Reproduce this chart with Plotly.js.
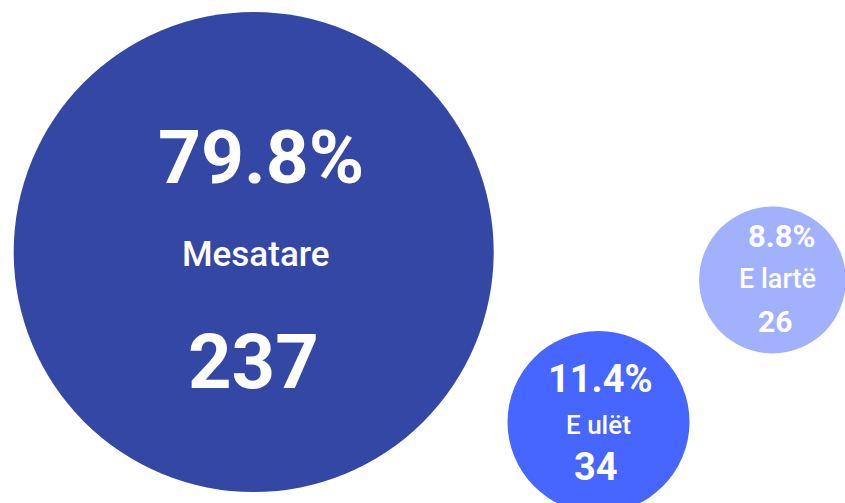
<!DOCTYPE html>
<html>
<head>
<meta charset="utf-8">
<script src="https://cdn.plot.ly/plotly-3.0.1.min.js"></script>
<style>
html,body{margin:0;padding:0;background:#fff;}
#chart{width:845px;height:503px;}
</style>
</head>
<body>
<div id="chart"></div>
<script>
// ---- data ----
var categories = ["Mesatare", "E ulët", "E lartë"];
var percents = [79.8, 11.4, 8.8];
var counts = [237, 34, 26];

// ---- layout of the packed bubbles (pixel space) ----
var centerX = [253.7, 598.5, 772.5];
var centerY = [252, 422, 280];
var radius = [240, 91, 73.4];
var colors = ["#3447a4", "#4666ff", "#a1b1fe"];
var pctDx = [7, 2, 9];
var labDx = [2, 0, 5];
var cntDx = [0, -3, 2.5];
// vertical positions (cap middles) of the three text rows per bubble
var rowPct = [156.5, 379, 236.7];
var rowLab = [254, 425, 279];
var rowCnt = [361.5, 466.7, 321];
var sizePct = [75, 38, 31];
var sizeLab = [35, 26, 27];
var sizeCnt = [76, 38, 30];

var trace = {
  type: "scatter",
  mode: "markers",
  x: centerX,
  y: centerY,
  text: categories,
  hoverinfo: "skip",
  marker: {
    size: radius.map(function(r){return 2*r;}),
    sizemode: "diameter",
    color: colors,
    line: {width: 0},
    opacity: 1
  },
  cliponaxis: true
};

var ann = [];
for (var i = 0; i < categories.length; i++) {
  ann.push({x: centerX[i] + pctDx[i], y: rowPct[i], xref: "x", yref: "y",
    text: percents[i].toFixed(1) + "%", showarrow: false,
    xanchor: "center", yanchor: "middle",
    font: {family: "Roboto", size: sizePct[i], color: "#ffffff", weight: 700}});
  ann.push({x: centerX[i] + labDx[i], y: rowLab[i], xref: "x", yref: "y",
    text: categories[i], showarrow: false,
    xanchor: "center", yanchor: "middle",
    font: {family: "Roboto", size: sizeLab[i], color: "#ffffff", weight: 500}});
  ann.push({x: centerX[i] + cntDx[i], y: rowCnt[i], xref: "x", yref: "y",
    text: String(counts[i]), showarrow: false,
    xanchor: "center", yanchor: "middle",
    font: {family: "Roboto", size: sizeCnt[i], color: "#ffffff", weight: 700}});
}

var layout = {
  width: 845, height: 503,
  margin: {l: 0, r: 0, t: 0, b: 0, pad: 0},
  paper_bgcolor: "#ffffff",
  plot_bgcolor: "#ffffff",
  showlegend: false,
  xaxis: {range: [0, 845], visible: false, fixedrange: true},
  yaxis: {range: [503, 0], visible: false, fixedrange: true},
  annotations: ann
};

Plotly.newPlot("chart", [trace], layout, {displayModeBar: false, staticPlot: true});
</script>
</body>
</html>
